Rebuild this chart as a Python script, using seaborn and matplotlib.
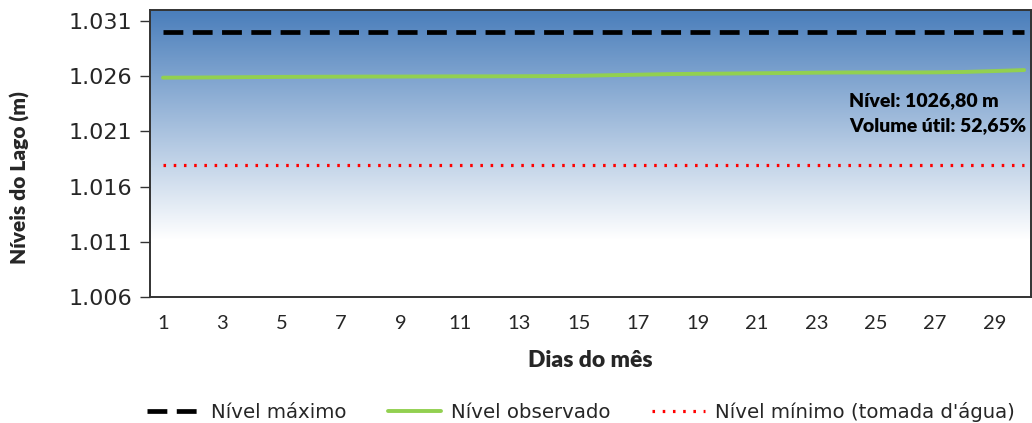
import numpy as np
import pandas as pd
import seaborn as sns
import matplotlib.pyplot as plt
from matplotlib.colors import LinearSegmentedColormap
from matplotlib.ticker import FuncFormatter

# níveis do lago (m) por dia do mês
dias = list(range(1, 31))
nivel_observado = [1025.88, 1025.89, 1025.91, 1025.93, 1025.95, 1025.96, 1025.97, 1025.98,
                   1025.98, 1025.99, 1026.00, 1026.00, 1026.01, 1026.02, 1026.05, 1026.10,
                   1026.15, 1026.20, 1026.23, 1026.25, 1026.28, 1026.30, 1026.33, 1026.35,
                   1026.35, 1026.35, 1026.36, 1026.40, 1026.48, 1026.57]
nivel_maximo = 1030.0
nivel_minimo = 1018.0
y_ticks = [1006, 1011, 1016, 1021, 1026, 1031]
x_ticks = list(range(1, 30, 2))

df = pd.DataFrame({'Dia': dias,
                   'Nível máximo': [nivel_maximo] * len(dias),
                   'Nível observado': nivel_observado,
                   'Nível mínimo (tomada d\'água)': [nivel_minimo] * len(dias)})

sns.set_theme(style='white')
plt.rcParams['font.family'] = ['DejaVu Sans']

fig = plt.figure(figsize=(10.32, 4.23), dpi=100)
ax = fig.add_axes([0.1453, 0.298, 0.854, 0.678])

# fundo em degradê azul -> branco
cmap = LinearSegmentedColormap.from_list('bg', [(0.0, '#4a7ebb'), (0.80, '#ffffff'), (1.0, '#ffffff')])
grad = np.linspace(0, 1, 256).reshape(-1, 1)
ax.imshow(grad, cmap=cmap, aspect='auto', extent=[0, 1, 0, 1], transform=ax.transAxes, zorder=0)

sns.lineplot(data=df, x='Dia', y='Nível máximo', ax=ax, color='black', lw=3.4,
             label='Nível máximo', zorder=3)
ax.lines[-1].set_dashes([4.2, 2.0])
sns.lineplot(data=df, x='Dia', y='Nível observado', ax=ax, color='#92d050', lw=2.8,
             label='Nível observado', zorder=3)
sns.lineplot(data=df, x='Dia', y='Nível mínimo (tomada d\'água)', ax=ax, color='#ff0000', lw=2.3,
             label='Nível mínimo (tomada d\'água)', zorder=3)
ax.lines[-1].set_dashes([0.8, 2.4])

ax.set_xlim(0.56, 30.24)
ax.set_ylim(1006, 1032)
ax.set_yticks(y_ticks)
ax.yaxis.set_major_formatter(FuncFormatter(lambda v, p: f'{int(v):,}'.replace(',', '.')))
ax.set_xticks(x_ticks)
ax.set_xticklabels([str(d) for d in x_ticks], fontfamily='Lato', fontsize=14.5)
ax.tick_params(axis='y', length=7, width=1, direction='out', left=True, labelsize=16,
               pad=6, color='#333333')
ax.tick_params(axis='x', length=0, pad=13)

for s in ax.spines.values():
    s.set_color('#333333')
    s.set_linewidth(1.4)

ax.set_xlabel('Dias do mês', fontfamily='Lato', fontweight='heavy', fontsize=16.5, labelpad=13)
ax.set_ylabel('Níveis do Lago (m)', fontfamily='Lato', fontweight='heavy', fontsize=15)
ax.yaxis.set_label_coords(-0.136, 0.415)

ax.text(0.793, 0.686, 'Nível: 1026,80 m', transform=ax.transAxes, fontfamily='Lato',
        fontweight='heavy', fontsize=14, color='black', va='center')
ax.text(0.793, 0.599, 'Volume útil: 52,65%', transform=ax.transAxes, fontfamily='Lato',
        fontweight='heavy', fontsize=14, color='black', va='center')

handles, labels = ax.get_legend_handles_labels()
ax.get_legend().remove()
fig.legend(handles, labels, loc='center', bbox_to_anchor=(0.563, 0.026), ncol=3, frameon=False,
           handlelength=2.7, columnspacing=2.1, handletextpad=0.5,
           prop={'family': 'DejaVu Sans', 'size': 14.2})

plt.savefig('out.png', dpi=100)
